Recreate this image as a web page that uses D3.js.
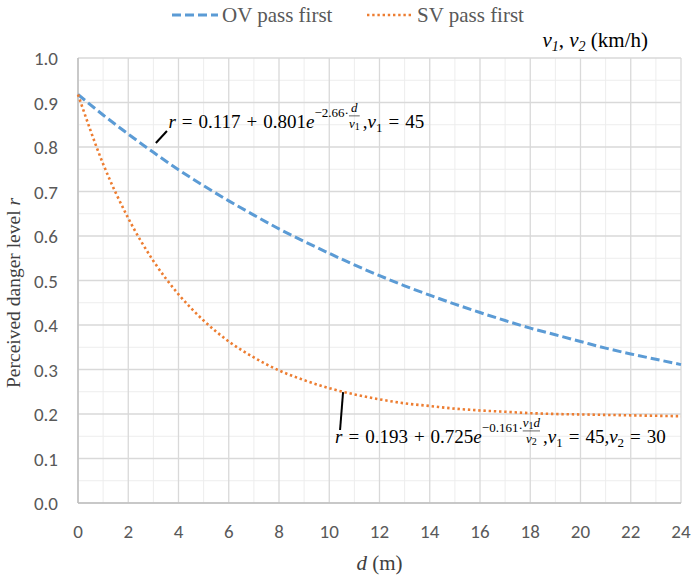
<!DOCTYPE html>
<html>
<head>
<meta charset="utf-8">
<script src="https://cdn.jsdelivr.net/npm/d3@7"></script>
<style>
  body { margin: 0; background: #fff; }
  text { white-space: pre; }
</style>
</head>
<body>
<div id="chart"></div>
<script>
// distance d (m)
const dVals = [0, 1, 2, 3, 4, 5, 6, 7, 8, 9, 10, 11, 12, 13, 14, 15, 16, 17, 18, 19, 20, 21, 22, 23, 24];
// OV pass first
const ovVals = [0.918, 0.872, 0.829, 0.788, 0.749, 0.713, 0.679, 0.647, 0.616, 0.588, 0.561, 0.535, 0.511,
                0.488, 0.467, 0.447, 0.428, 0.410, 0.393, 0.378, 0.363, 0.348, 0.335, 0.323, 0.311];
// SV pass first
const svVals = [0.918, 0.762, 0.640, 0.544, 0.469, 0.410, 0.363, 0.327, 0.298, 0.276, 0.258, 0.244, 0.233,
                0.224, 0.218, 0.212, 0.208, 0.205, 0.202, 0.200, 0.199, 0.198, 0.197, 0.196, 0.195];
const xTicks = [0, 2, 4, 6, 8, 10, 12, 14, 16, 18, 20, 22, 24];
const yTicks = [0, 0.1, 0.2, 0.3, 0.4, 0.5, 0.6, 0.7, 0.8, 0.9, 1.0];
const seriesNames = ["OV pass first", "SV pass first"];

const W = 692, H = 577;
// 描画領域
const plot = {left: 78, right: 681, top: 58, bottom: 503};
const serif = "'Liberation Serif', 'Times New Roman', serif";
const sans = "Carlito, Calibri, Lato, sans-serif";
const tickColor = "#595959";
const fs = 19;      // 数式の文字サイズ
const fsSup = 13;   // 指数の文字サイズ

const svg = d3.select("#chart").append("svg")
    .attr("width", W)
    .attr("height", H);

const x = d3.scaleLinear().domain([0, 24]).range([plot.left, plot.right]);
const y = d3.scaleLinear().domain([0, 1]).range([plot.bottom, plot.top]);

// 補助目盛（細かいグリッド）
const minorX = d3.range(1, 24, 2);
const minorY = d3.range(0.05, 1, 0.1);
const grid = svg.append("g");
grid.selectAll("line.mx").data(minorX).enter().append("line")
    .attr("x1", d => x(d)).attr("x2", d => x(d))
    .attr("y1", plot.top).attr("y2", plot.bottom)
    .attr("stroke", "#EDEDED").attr("stroke-width", 1);
grid.selectAll("line.my").data(minorY).enter().append("line")
    .attr("y1", d => y(d)).attr("y2", d => y(d))
    .attr("x1", plot.left).attr("x2", plot.right)
    .attr("stroke", "#EDEDED").attr("stroke-width", 1);
// 主目盛グリッド
grid.selectAll("line.gx").data(xTicks).enter().append("line")
    .attr("x1", d => x(d)).attr("x2", d => x(d))
    .attr("y1", plot.top).attr("y2", plot.bottom)
    .attr("stroke", "#D9D9D9").attr("stroke-width", 1.3);
grid.selectAll("line.gy").data(yTicks).enter().append("line")
    .attr("y1", d => y(d)).attr("y2", d => y(d))
    .attr("x1", plot.left).attr("x2", plot.right)
    .attr("stroke", "#D9D9D9").attr("stroke-width", 1.3);

// 軸線
svg.append("line")
    .attr("x1", plot.left).attr("x2", plot.left)
    .attr("y1", plot.top).attr("y2", plot.bottom)
    .attr("stroke", "#BFBFBF").attr("stroke-width", 1.5);
svg.append("line")
    .attr("x1", plot.left).attr("x2", plot.right)
    .attr("y1", plot.bottom).attr("y2", plot.bottom)
    .attr("stroke", "#BFBFBF").attr("stroke-width", 1.5);

// 目盛ラベル
svg.append("g").selectAll("text").data(yTicks).enter().append("text")
    .text(d => d3.format(".1f")(d))
    .attr("x", plot.left - 20)
    .attr("y", d => y(d) + 7)
    .attr("text-anchor", "end")
    .attr("font-family", sans).attr("font-size", 19)
    .attr("fill", tickColor);
svg.append("g").selectAll("text").data(xTicks).enter().append("text")
    .text(d => d)
    .attr("x", d => x(d))
    .attr("y", plot.bottom + 35)
    .attr("text-anchor", "middle")
    .attr("font-family", sans).attr("font-size", 19)
    .attr("fill", tickColor);

// 軸タイトル
const xt = svg.append("text")
    .attr("x", (plot.left + plot.right) / 2)
    .attr("y", 570)
    .attr("text-anchor", "middle")
    .attr("font-family", serif).attr("font-size", 21)
    .attr("fill", "#404040");
xt.append("tspan").attr("font-style", "italic").text("d");
xt.append("tspan").text(" (m)");

const yt = svg.append("text")
    .attr("transform", "translate(20," + 293 + ") rotate(-90)")
    .attr("text-anchor", "middle")
    .attr("font-family", serif).attr("font-size", 19.5)
    .attr("fill", "#404040");
yt.append("tspan").text("Perceived danger level ");
yt.append("tspan").attr("font-style", "italic").text("r");

// 速度の単位
const vt = svg.append("text")
    .attr("x", 648).attr("y", 47)
    .attr("text-anchor", "end")
    .attr("font-family", serif).attr("font-size", 21)
    .attr("fill", "#000");
vt.append("tspan").attr("font-style", "italic").text("v");
vt.append("tspan").attr("font-style", "italic").attr("font-size", 14).attr("dy", 4).text("1");
vt.append("tspan").attr("dy", -4).text(", ");
vt.append("tspan").attr("font-style", "italic").text("v");
vt.append("tspan").attr("font-style", "italic").attr("font-size", 14).attr("dy", 4).text("2");
vt.append("tspan").attr("dy", -4).text(" (km/h)");

// 系列
const styles = [
    {color: "#5B9BD5", dash: "9,4", width: 3},
    {color: "#ED7D31", dash: "2.4,2.8", width: 2.6}
];
const line = d3.line()
    .x((d, i) => x(dVals[i]))
    .y(d => y(d))
    .curve(d3.curveMonotoneX);
[ovVals, svVals].forEach((vals, i) => {
    svg.append("path")
        .attr("d", line(vals))
        .attr("fill", "none")
        .attr("stroke", styles[i].color)
        .attr("stroke-width", styles[i].width)
        .attr("stroke-dasharray", styles[i].dash);
});

// 凡例
const legendX = [172, 367];
const legend = svg.append("g");
seriesNames.forEach((name, i) => {
    legend.append("line")
        .attr("x1", legendX[i]).attr("x2", legendX[i] + 46)
        .attr("y1", 15).attr("y2", 15)
        .attr("stroke", styles[i].color)
        .attr("stroke-width", styles[i].width)
        .attr("stroke-dasharray", styles[i].dash);
    legend.append("text")
        .text(name)
        .attr("x", legendX[i] + 50).attr("y", 22)
        .attr("font-family", serif).attr("font-size", 21)
        .attr("fill", tickColor);
});

// 数式のパーツを横に並べる
function seg(g, px, py, str, size, italic) {
    const t = g.append("text")
        .text(str)
        .attr("x", px).attr("y", py)
        .attr("font-family", serif)
        .attr("font-size", size)
        .attr("font-style", italic ? "italic" : "normal")
        .attr("fill", "#000");
    return t.node().getComputedTextLength();
}
// 分数（分子、分母はパーツのリスト）
function frac(g, px, py, num, den) {
    const gn = g.append("g"), gd = g.append("g");
    let wn = 0, wd = 0;
    num.forEach(p => { wn += seg(gn, px + wn, py - 16 + (p.dy || 0), p.t, p.s, p.it); });
    den.forEach(p => { wd += seg(gd, px + wd, py + 0 + (p.dy || 0), p.t, p.s, p.it); });
    const fw = Math.max(wn, wd);
    gn.attr("transform", "translate(" + (fw - wn) / 2 + ",0)");
    gd.attr("transform", "translate(" + (fw - wd) / 2 + ",0)");
    g.append("line")
        .attr("x1", px).attr("x2", px + fw)
        .attr("y1", py - 12).attr("y2", py - 12)
        .attr("stroke", "#000").attr("stroke-width", 0.6);
    return fw + 3;
}
function sub(g, px, py, base, idx) {
    let w = seg(g, px, py, base, fs, true);
    w += seg(g, px + w, py + 4, idx, 13, false);
    return w;
}
// 演算子の前後に余白
function op(g, px, py, str) {
    return seg(g, px + 6, py, str, fs, false) + 12;
}

// 注記: OV
const a1 = svg.append("g");
a1.append("line")
    .attr("x1", x(3.1)).attr("y1", y(0.809))
    .attr("x2", x(3.54)).attr("y2", y(0.836))
    .attr("stroke", "#000").attr("stroke-width", 2);
{
    let px = x(3.6), py = y(0.843);
    px += seg(a1, px, py, "r", fs, true);
    px += op(a1, px, py, "=");
    px += seg(a1, px, py, "0.117", fs, false);
    px += op(a1, px, py, "+");
    px += seg(a1, px, py, "0.801", fs, false);
    px += seg(a1, px, py, "e", fs, true);
    px += seg(a1, px, py - 11, "−2.66·", fsSup, false);
    px += frac(a1, px, py,
        [{t: "d", s: fsSup, it: true}],
        [{t: "v", s: fsSup, it: true}, {t: "1", s: 10, it: false, dy: 2}]);
    px += seg(a1, px, py, ",", fs, false);
    px += sub(a1, px, py, "v", "1");
    px += op(a1, px, py, "=");
    px += seg(a1, px, py, "45", fs, false);
}

// 注記: SV
const a2 = svg.append("g");
a2.append("line")
    .attr("x1", x(10.55)).attr("y1", y(0.249))
    .attr("x2", x(10.43)).attr("y2", y(0.164))
    .attr("stroke", "#000").attr("stroke-width", 2);
{
    let px = x(10.23), py = y(0.135);
    px += seg(a2, px, py, "r", fs, true);
    px += op(a2, px, py, "=");
    px += seg(a2, px, py, "0.193", fs, false);
    px += op(a2, px, py, "+");
    px += seg(a2, px, py, "0.725", fs, false);
    px += seg(a2, px, py, "e", fs, true);
    px += seg(a2, px, py - 11, "−0.161·", fsSup, false);
    px += frac(a2, px, py,
        [{t: "v", s: fsSup, it: true}, {t: "1", s: 10, it: false, dy: 2}, {t: "d", s: fsSup, it: true}],
        [{t: "v", s: fsSup, it: true}, {t: "2", s: 10, it: false, dy: 2}]);
    px += seg(a2, px, py, ",", fs, false);
    px += sub(a2, px, py, "v", "1");
    px += op(a2, px, py, "=");
    px += seg(a2, px, py, "45,", fs, false);
    px += sub(a2, px, py, "v", "2");
    px += op(a2, px, py, "=");
    px += seg(a2, px, py, "30", fs, false);
}
</script>
</body>
</html>
